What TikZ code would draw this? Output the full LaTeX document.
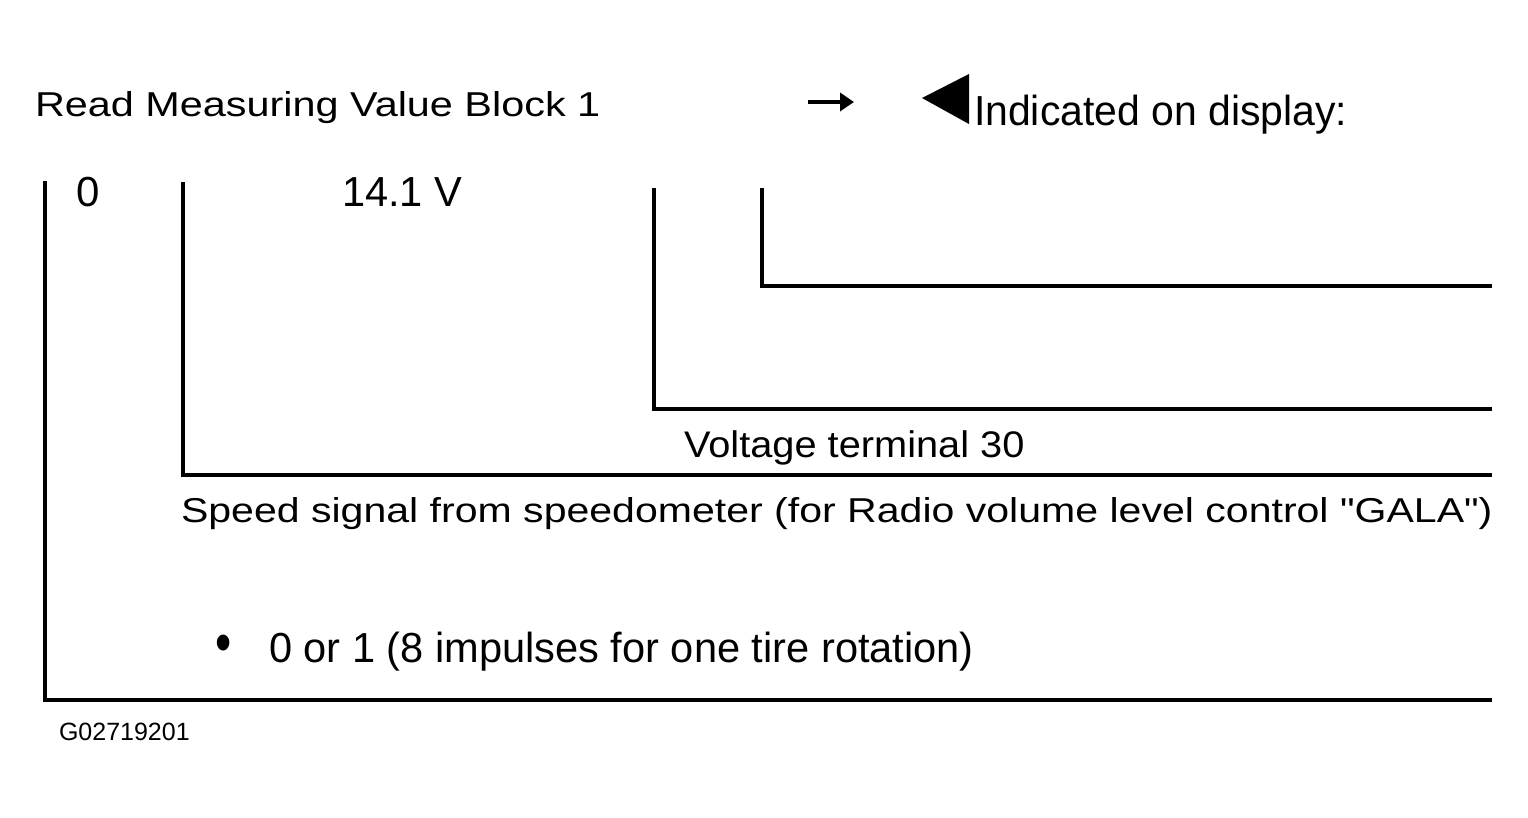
\documentclass[tikz,border=0pt]{standalone}
\usepackage{fontspec}
\setmainfont{Liberation Sans}[Ligatures=TeXOff]
\usetikzlibrary{arrows.meta}
\begin{document}
\begin{tikzpicture}[x=1pt,y=-1pt,
  lbl/.style={anchor=base west, inner sep=0pt, outer sep=0pt},
  big/.style={font=\fontsize{42}{48}\selectfont},
  wide/.style={font=\fontsize{34.5}{40}\selectfont},
  mid/.style={font=\fontsize{37}{44}\selectfont},
  small/.style={font=\fontsize{25}{30}\selectfont},
  bracket/.style={line width=3.2pt, line cap=butt, line join=miter}]
\useasboundingbox[fill=white] (0,0) rectangle (1528,817);

% texts
\node[lbl, wide] (title) at (35,116) {\scalebox{1.2}[1]{Read Measuring Value Block 1}};
\node[lbl, big] (indic) at (974,125) {\scalebox{0.975}[1]{Indicated on display:}};
\node[lbl, big] (zero) at (76,206) {0};
\node[lbl, big] (volt) at (342,206) {\scalebox{0.99}[1]{14.1 V}};
\node[lbl, mid] (term) at (684,457) {\scalebox{1.075}[1]{Voltage terminal 30}};
\node[lbl, wide] (speed) at (181,522) {\scalebox{1.19}[1]{Speed signal from speedometer (for Radio volume level control "GALA")}};
\node[lbl, big] (bul) at (215,662) {\scalebox{1.1}[1.4]{•}};
\node[lbl, big] (imp) at (269,662) {\scalebox{0.99}[1]{0 or 1 (8 impulses for one tire rotation)}};
\node[lbl, small] (code) at (59,740) {G02719201};

% arrow and triangle
\coordinate (arA) at (808,102);
\coordinate (arB) at (854,102);
\draw[line width=3.8pt, -{Triangle[length=14pt,width=18pt]}] (arA) -- (arB);
\coordinate (t1) at (922,98);
\coordinate (t2) at (969,74);
\coordinate (t3) at (969,124);
\fill (t1) -- (t2) -- (t3) -- cycle;

% brackets
\coordinate (a1) at (45,181);
\coordinate (a2) at (45,700);
\coordinate (a3) at (1492,700);
\draw[bracket] (a1) -- (a2) -- (a3);
\coordinate (b1) at (183,182);
\coordinate (b2) at (183,475);
\coordinate (b3) at (1492,475);
\draw[bracket] (b1) -- (b2) -- (b3);
\coordinate (c1) at (654,188);
\coordinate (c2) at (654,409);
\coordinate (c3) at (1492,409);
\draw[bracket] (c1) -- (c2) -- (c3);
\coordinate (d1) at (762,188);
\coordinate (d2) at (762,286);
\coordinate (d3) at (1492,286);
\draw[bracket] (d1) -- (d2) -- (d3);
\end{tikzpicture}
\end{document}
